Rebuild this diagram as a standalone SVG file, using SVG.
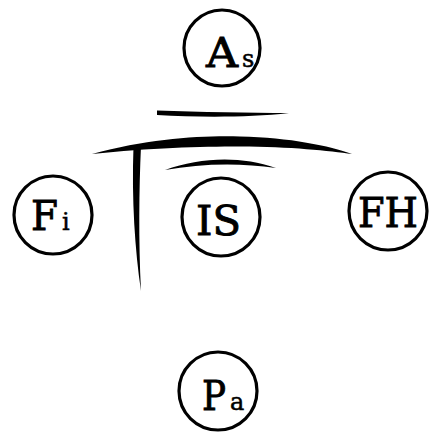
<svg xmlns="http://www.w3.org/2000/svg" width="433" height="438" viewBox="0 0 433 438">
<style>
.node circle{fill:none;stroke:#000;stroke-width:3.2}
.lbl{font-family:"DejaVu Serif","Liberation Serif",serif;font-size:41px;fill:#000;stroke:#000;stroke-width:0.9}
.sub{font-family:"DejaVu Serif","Liberation Serif",serif;font-size:24px;fill:#000;stroke:#000;stroke-width:0.5}
.stroke{fill:#000;stroke:none}
</style>
<rect width="433" height="438" fill="#fff"/>
<g id="connectors">
<path class="stroke" d="M157,110.5 C200,112 250,113 289,113 C250,117.5 200,117.5 157,115 Z"/>
<path class="stroke" d="M92,154 C150,138.5 200,135.5 240,136.5 C290,137.5 330,146 352,154 C330,151 290,146.5 240,146.5 C200,146.5 150,148 92,154 Z"/>
<path class="stroke" d="M165,170 C200,157.5 240,155.5 276,168 C240,162.5 200,163.5 165,170 Z"/>
<path class="stroke" d="M133.5,146 L141,146 C139,190 138.5,240 141,291 C135,250 131.5,200 133.5,146 Z"/>
</g>
<g id="As" class="node"><circle cx="222" cy="48" r="38"/><text class="lbl" x="206" y="67" textLength="32" lengthAdjust="spacingAndGlyphs">A</text><text class="sub" x="242" y="67">s</text></g>
<g id="Fi" class="node"><circle cx="53" cy="215" r="39"/><text class="lbl" x="31" y="230" textLength="27" lengthAdjust="spacingAndGlyphs">F</text><text class="sub" x="62" y="230">i</text></g>
<g id="IS" class="node"><circle cx="221" cy="217" r="39"/><text class="lbl" x="196" y="235" textLength="45" lengthAdjust="spacingAndGlyphs">IS</text></g>
<g id="FH" class="node"><circle cx="388" cy="211" r="39"/><text class="lbl" x="358" y="227" textLength="60" lengthAdjust="spacingAndGlyphs">FH</text></g>
<g id="Pa" class="node"><circle cx="218" cy="391" r="39"/><text class="lbl" x="202" y="410" textLength="24" lengthAdjust="spacingAndGlyphs">P</text><text class="sub" x="230" y="410">a</text></g>
</svg>
